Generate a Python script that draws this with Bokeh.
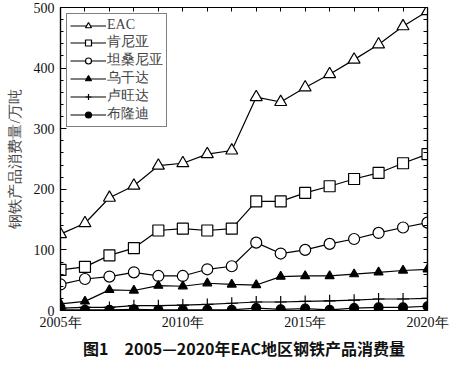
from bokeh.plotting import figure
from bokeh.models import LinearAxis, FixedTicker, Range1d, Title, Legend
from bokeh.embed import file_html
from bokeh.resources import INLINE

years = list(range(2005, 2021))
eac = [126, 144, 186, 206, 239, 243, 258, 264, 352, 344, 368, 390, 414, 439, 469, 494]
kenya = [67, 72, 91, 103, 132, 135, 132, 135, 180, 180, 194, 205, 217, 227, 243, 258]
tanzania = [43, 52, 56, 63, 57, 57, 68, 73, 112, 94, 100, 110, 118, 128, 137, 145]
uganda = [11, 15, 34, 33, 41, 40, 45, 43, 42, 56, 57, 57, 60, 63, 66, 68]
rwanda = [4, 5, 5, 8, 8, 9, 10, 12, 14, 14, 15, 16, 17, 19, 19, 20]
burundi = [1, 1, 1, 2, 1, 1, 1, 1, 4, 2, 3, 1, 4, 5, 5, 7]
names = ["EAC", "肯尼亚", "坦桑尼亚", "乌干达", "卢旺达", "布隆迪"]
x_ticks = [2005, 2010, 2015, 2020]
x_tick_labels = ["2005年", "2010年", "2015年", "2020年"]
y_ticks = [0, 100, 200, 300, 400, 500]
y_minor = list(range(0, 501, 20))

SERIF = "Liberation Serif"

p = figure(width=449, height=360, output_backend="svg", toolbar_location=None,
           x_range=Range1d(2005, 2020), y_range=Range1d(0, 500),
           min_border_left=60, min_border_right=22, min_border_top=7, min_border_bottom=0)
p.xgrid.visible = False
p.ygrid.visible = False
p.outline_line_color = "black"
p.outline_line_width = 1.2

def style_axis(ax):
    ax.axis_line_color = "black"
    ax.axis_line_width = 1.2
    ax.major_tick_in = 6
    ax.major_tick_out = 0
    ax.minor_tick_in = 3
    ax.minor_tick_out = 0
    ax.major_tick_line_color = "black"
    ax.minor_tick_line_color = "black"
    ax.major_label_text_font = SERIF
    ax.major_label_text_font_size = "14px"
    ax.major_label_text_color = "#111111"

p.xaxis.ticker = FixedTicker(ticks=x_ticks, minor_ticks=years)
p.xaxis.major_label_overrides = {t: l for t, l in zip(x_ticks, x_tick_labels)}
p.xaxis.major_label_standoff = 4
style_axis(p.xaxis[0])
p.yaxis.ticker = FixedTicker(ticks=y_ticks, minor_ticks=y_minor)
p.yaxis.major_label_standoff = 6
style_axis(p.yaxis[0])
p.yaxis.axis_label = "钢铁产品消费量/万吨"
p.yaxis.axis_label_text_font = SERIF
p.yaxis.axis_label_text_font_style = "normal"
p.yaxis.axis_label_text_font_size = "15px"
p.yaxis.axis_label_standoff = 8

# mirrored tick marks (no labels) on right and top
ra = LinearAxis(ticker=FixedTicker(ticks=[], minor_ticks=y_minor))
style_axis(ra)
ra.minor_tick_in = 4
p.add_layout(ra, "right")
ta = LinearAxis(ticker=FixedTicker(ticks=[], minor_ticks=years))
style_axis(ta)
ta.minor_tick_in = 4
p.add_layout(ta, "above")

series = [
    (eac, "triangle", "white", 12),
    (kenya, "square", "white", 11),
    (tanzania, "circle", "white", 11),
    (uganda, "triangle", "black", 9),
    (rwanda, "cross", "black", 12),
    (burundi, "circle", "black", 9),
]
items = []
for (vals, marker, fill, size), name in zip(series, names):
    l = p.line(years, vals, line_color="black", line_width=1.2)
    s = p.scatter(years, vals, marker=marker, size=size, fill_color=fill,
                  line_color="black", line_width=1.2)
    items.append((name, [l, s]))

legend = Legend(items=items, location="top_left")
legend.border_line_color = "black"
legend.border_line_width = 1.2
legend.margin = 6
legend.padding = 3
legend.spacing = 0
legend.glyph_width = 36
legend.glyph_height = 15
legend.label_height = 15
legend.label_standoff = 1
legend.label_text_font = SERIF
legend.label_text_font_size = "14px"
legend.label_text_line_height = 1.0
legend.background_fill_alpha = 1
p.add_layout(legend)

title = Title(text="图1　2005—2020年EAC地区钢铁产品消费量", align="center",
              text_font="Noto Sans CJK SC", text_font_style="bold",
              text_font_size="16px", text_color="#111111", standoff=2)
p.add_layout(title, "below")

open("out.html", "w").write(file_html(p, INLINE))
